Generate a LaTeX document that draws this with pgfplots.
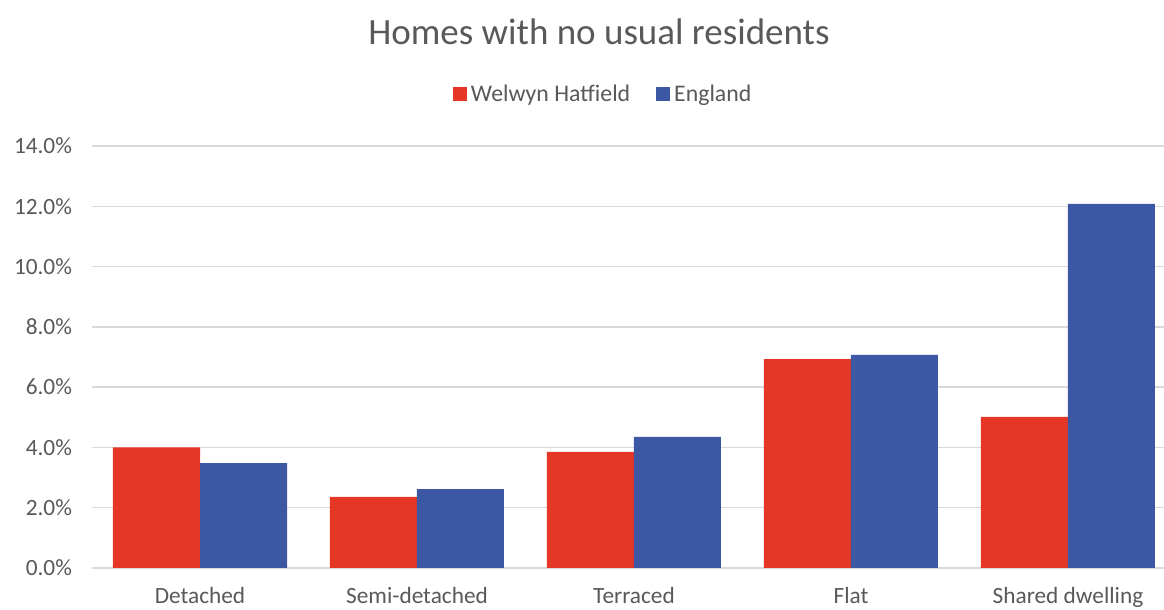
\documentclass[border=0pt]{standalone}
\usepackage{pgfplots}
\pgfplotsset{compat=1.18}
\usepackage{fontspec}
\setmainfont{Carlito}
\definecolor{whred}{HTML}{E53626}
\definecolor{engblue}{HTML}{3C58A5}
\definecolor{txt}{HTML}{595959}
\definecolor{gridc}{HTML}{D9D9D9}
\begin{document}
\begin{tikzpicture}[x=1pt,y=1pt]
\useasboundingbox (0,0) rectangle (1164,610);
\begin{axis}[
    at={(91.5pt,42pt)}, anchor=south west,
    scale only axis,
    width=1085pt, height=422pt,
    xmin=-0.5, xmax=4.5,
    ymin=0, ymax=14,
    ybar=0pt, bar width=87pt,
    axis line style={draw=none},
    major tick length=0pt,
    ytick={0,2,...,14},
    ymajorgrids,
    grid style={gridc, line width=1.5pt},
    xtick=data,
    xticklabels={Detached,Semi-detached,Terraced,Flat,Shared dwelling},
    /pgf/number format/assume math mode=true,
    yticklabel={\pgfmathprintnumber[fixed,fixed zerofill,precision=1]{\tick}\%},
    ticklabel style={font=\fontsize{23.3}{28}\selectfont, text=txt},
    yticklabel style={xshift=-16pt},
    xticklabel style={yshift=-16pt},
    legend style={draw=none, at={(0.4716,1.123)}, anchor=center,
        font=\fontsize{23.8}{28}\selectfont, text=txt,
        legend columns=2,
        /tikz/every odd column/.append style={column sep=2pt},
        /tikz/every even column/.append style={column sep=24pt}},
    legend image code/.code={\fill[#1] (0pt,-7pt) rectangle (14pt,7pt);},
]
% Welwyn Hatfield
\addplot[fill=whred, draw=none] coordinates {
    (0,4.00) (1,2.36) (2,3.85) (3,6.93) (4,5.01)
};
% England
\addplot[fill=engblue, draw=none] coordinates {
    (0,3.48) (1,2.62) (2,4.35) (3,7.07) (4,12.08)
};
\legend{Welwyn Hatfield, England}
\end{axis}
\node[text=txt, font=\fontsize{37}{44}\selectfont] at (599,578) {Homes with no usual residents};
\end{tikzpicture}
\end{document}
